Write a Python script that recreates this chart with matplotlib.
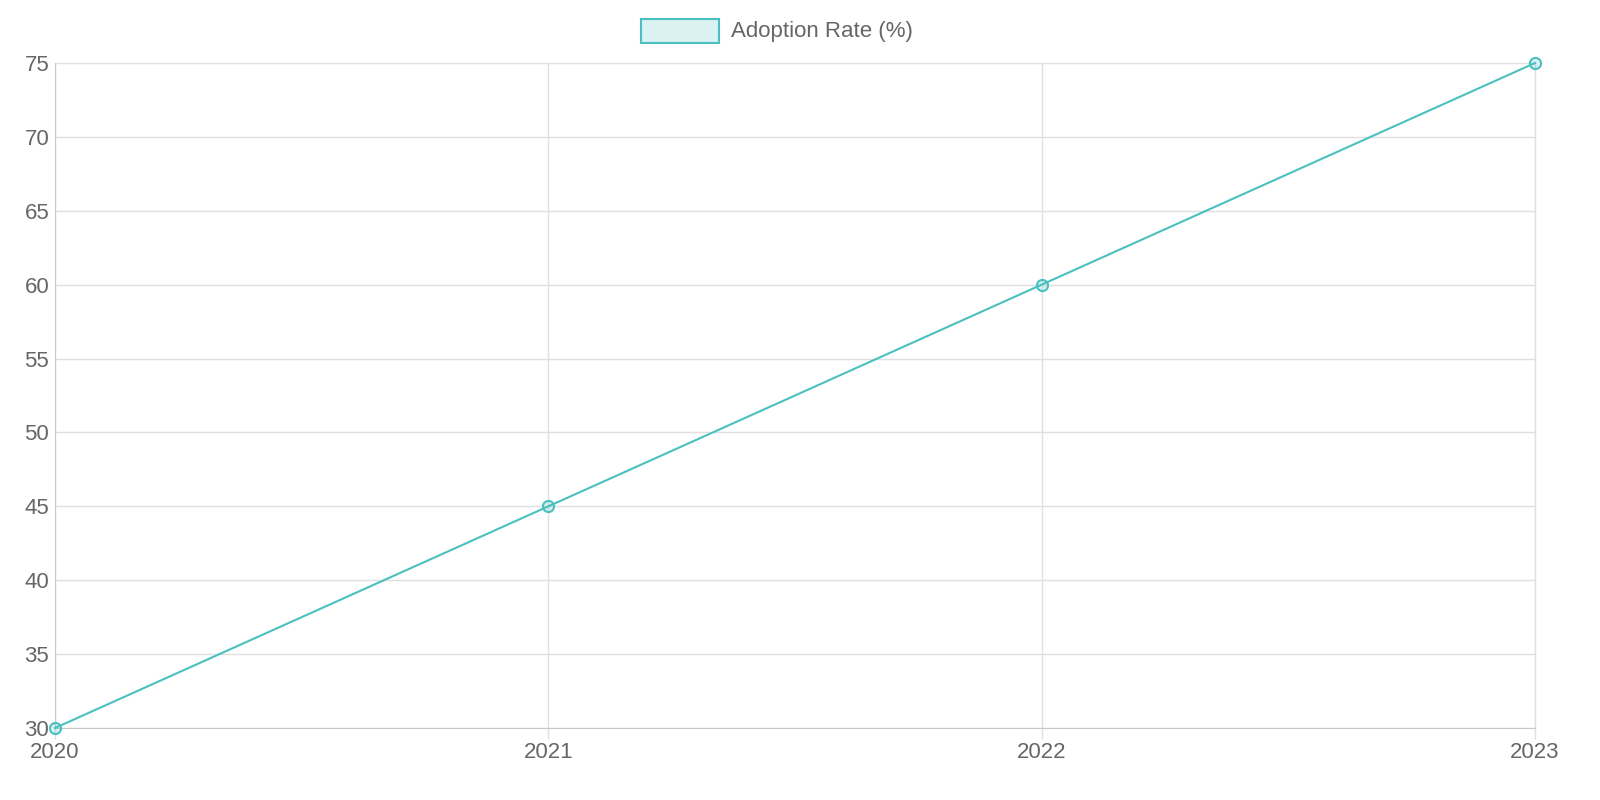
import matplotlib.pyplot as plt
from matplotlib.patches import Rectangle

years = ['2020', '2021', '2022', '2023']
adoption = [30, 45, 60, 75]

plt.rcParams['font.family'] = ['Liberation Sans', 'DejaVu Sans']

fig = plt.figure(figsize=(16, 8), dpi=100)
ax = fig.add_axes([55 / 1600, 1 - 728 / 800, (1535 - 55) / 1600, (728 - 63) / 800])

color = '#4BC0C0'
x = list(range(len(years)))
ax.plot(x, adoption, color=color, linewidth=1.5, marker='o', markersize=8,
        markerfacecolor=(75 / 255, 192 / 255, 192 / 255, 0.2), markeredgecolor=color,
        markeredgewidth=1.5, clip_on=False, zorder=3)

ax.set_xlim(0, len(years) - 1)
ax.set_ylim(30, 75)
ax.set_xticks(x)
ax.set_xticklabels(years)
ax.set_yticks(range(30, 76, 5))
ax.grid(True, color='#e0e0e0', linewidth=1)
ax.axvline(len(years) - 1, color='#e0e0e0', linewidth=1, clip_on=False, zorder=0)
ax.set_axisbelow(True)
for side in ['top', 'right']:
    ax.spines[side].set_visible(False)
for side in ['left', 'bottom']:
    ax.spines[side].set_color('#c8c8c8')
ax.tick_params(colors='#666666', labelsize=16, length=8, width=1)
ax.tick_params(axis='y', length=0, pad=22)
for lbl in ax.get_yticklabels():
    lbl.set_horizontalalignment('left')
ax.tick_params(axis='x', color='#e0e0e0', pad=2)

# legend drawn Chart.js style
fig.patches.append(Rectangle((641 / 1600, 1 - 43 / 800), 78 / 1600, 24 / 800,
                             transform=fig.transFigure, facecolor=(75 / 255, 192 / 255, 192 / 255, 0.2),
                             edgecolor=color, linewidth=1.5))
fig.text(731 / 1600, 1 - 31 / 800, 'Adoption Rate (%)', color='#666666', fontsize=16, va='center')

fig.savefig('out.png', dpi=100)
